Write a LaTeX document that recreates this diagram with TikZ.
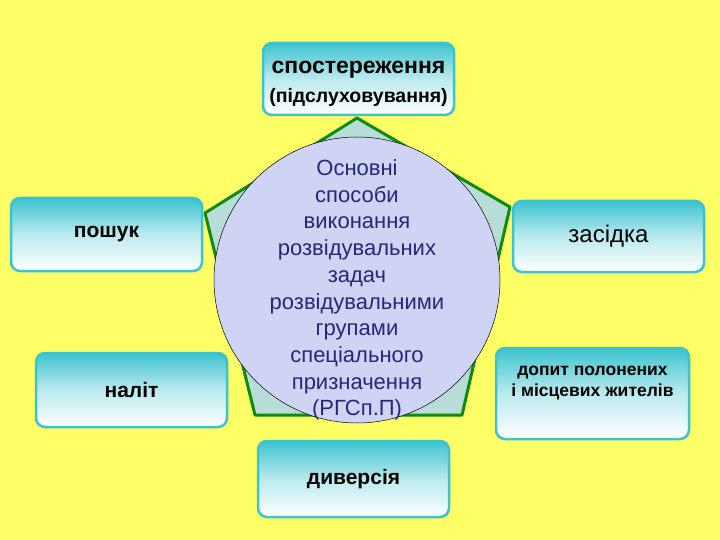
\documentclass[tikz,border=0pt]{standalone}
\usepackage{fontspec}
\setmainfont{Liberation Sans}
\definecolor{bg}{HTML}{FFFF66}
\definecolor{teal1}{HTML}{3CC3CF}
\definecolor{pent}{HTML}{B8DCD8}
\definecolor{grn}{HTML}{108A10}
\definecolor{circ}{HTML}{D0D4F4}
\definecolor{navy}{HTML}{26267A}
\tikzset{
 box/.style={rounded corners=9pt, draw=teal1, line width=2.5pt, top color=teal1, bottom color=white, middle color=teal1!35, shading angle=0, font=\bfseries\fontsize{21}{24}\selectfont, align=center, inner sep=0pt, minimum width=191pt},
}
\begin{document}
\begin{tikzpicture}[x=1pt,y=-1pt]
\fill[bg] (0,0) rectangle (720,540);
\useasboundingbox (0,0) rectangle (720,540);
\coordinate (p1) at (357,118);
\coordinate (p2) at (510,207);
\coordinate (p3) at (462,415);
\coordinate (p4) at (255,415);
\coordinate (p5) at (205,213);
\draw[grn, line width=3pt, fill=pent, line join=round] (p1)--(p2)--(p3)--(p4)--(p5)--cycle;
\node[circle, draw=black, line width=0.5pt, fill=circ, minimum size=286pt, inner sep=0pt] (c) at (357,280) {};
\node[text=navy, align=center, font=\fontsize{22}{26.7}\selectfont] (t) at (357,290) {Основні\\способи\\виконання\\розвідувальних\\задач\\розвідувальними\\групами\\спеціального\\призначення\\(РГСп.П)};
\node[box, minimum height=72pt] (a) at (358.5,79) {};
\node[font=\bfseries\fontsize{23}{26}\selectfont] (a1) at (358.5,70) {спостереження};
\node[font=\bfseries\fontsize{19.5}{22}\selectfont] (a2) at (358.5,97) {(підслуховування)};
\node[box, minimum height=73pt] (b) at (106.5,234.5) {пошук};
\node[box, minimum height=74pt] (n) at (131.5,390) {наліт};
\node[box, minimum height=76pt] (d) at (353.5,479) {диверсія};
\node[box, minimum height=71pt, font=\fontsize{24}{28}\selectfont] (z) at (608.5,236.5) {засідка};
\node[box, minimum height=91pt, minimum width=193pt, font=\bfseries\fontsize{17.5}{21}\selectfont] (q) at (592.5,393.5) {};
\node[font=\bfseries\fontsize{17.5}{21}\selectfont, align=center] (q1) at (592.5,383) {допит полонених\\і місцевих жителів};
\end{tikzpicture}
\end{document}
